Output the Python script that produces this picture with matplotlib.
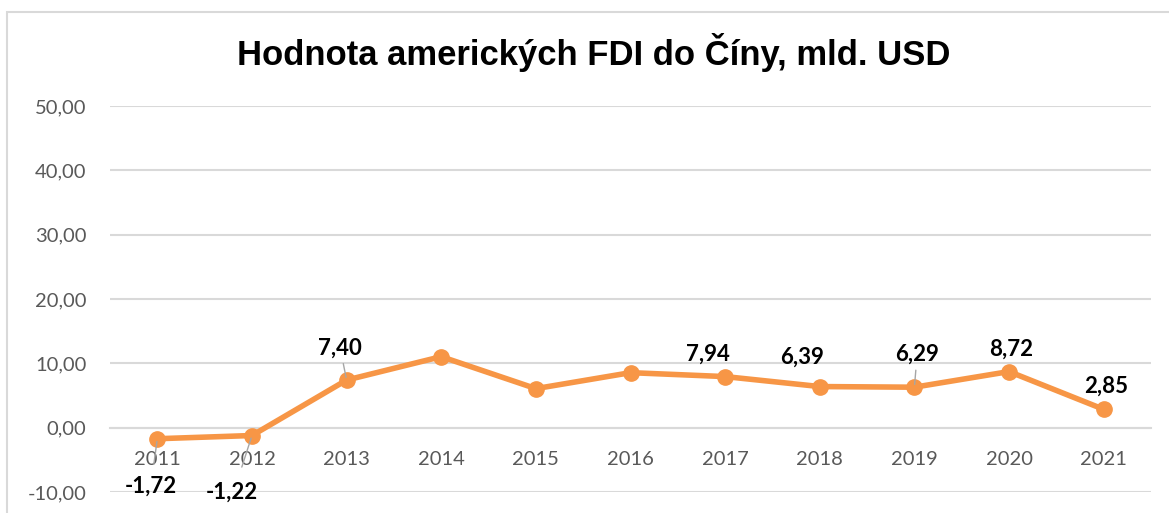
import matplotlib.pyplot as plt
from matplotlib.patches import Rectangle

years = ['2011', '2012', '2013', '2014', '2015', '2016', '2017', '2018', '2019', '2020', '2021']
fdi = [-1.72, -1.22, 7.40, 11.04, 6.07, 8.55, 7.94, 6.39, 6.29, 8.72, 2.85]
yticks = [-10, 0, 10, 20, 30, 40, 50]

# which points get a label, and where the label sits (pixel offset), leader line or not
label_offsets = {0: (-7, -47, True), 1: (-20, -57, True), 2: (-7, 32, True),
                 6: (-17, 22, False), 7: (-18, 29, False), 8: (3, 33, True),
                 9: (2, 22, False), 10: (2, 23, False)}

orange = '#F79646'
grid = '#D9D9D9'
grey = '#595959'

fig = plt.figure(figsize=(11.69, 5.13), dpi=100)
fig.patches.append(Rectangle((7 / 1169, -0.05), 1.1, 1 - 12 / 513 + 0.05,
                             transform=fig.transFigure, fill=False,
                             edgecolor=grid, lw=1.5))

ax = fig.add_axes([110 / 1169, 1 - 492 / 513, 1041 / 1169, 386 / 513])
ax.spines['bottom'].set_position(('data', 0))
ax.spines['bottom'].set_color(grid)
ax.spines['bottom'].set_linewidth(1.5)
for s in ['top', 'right', 'left']:
    ax.spines[s].set_visible(False)

x = list(range(len(years)))
ax.plot(x, fdi, color=orange, lw=4, marker='o', markersize=11, zorder=3)

ax.set_xlim(-0.5, len(years) - 0.5)
ax.set_ylim(-10, 50)
ax.set_yticks(yticks)
ax.set_yticklabels(['{:.2f}'.format(v).replace('.', ',') for v in yticks],
                   fontsize=14.5, color=grey, family='Lato')
ax.yaxis.grid(True, color=grid, lw=1.5)
ax.set_axisbelow(True)
ax.tick_params(axis='y', length=0, pad=17)

ax.set_xticks(x)
ax.set_xticklabels(years, fontsize=14.5, color=grey, family='Lato')
ax.tick_params(axis='x', length=0, pad=17)

for i, (dx, dy, leader) in label_offsets.items():
    txt = '{:.2f}'.format(fdi[i]).replace('.', ',')
    ax.annotate(txt, (i, fdi[i]), xytext=(dx * 0.72, dy * 0.72),
                textcoords='offset points', ha='center', va='center',
                fontsize=16, fontweight='bold', family='Lato', color='black')
    if leader:
        ax.annotate('', (i, fdi[i]), xytext=(dx * 0.72 * 0.55, dy * 0.72 * 0.6),
                    textcoords='offset points',
                    arrowprops=dict(arrowstyle='-', color='#A6A6A6', lw=1))

fig.text(594 / 1169, 1 - 52 / 513, 'Hodnota amerických FDI do Číny, mld. USD',
         ha='center', va='center', fontsize=24.9, fontweight='bold',
         family='Liberation Sans')

fig.savefig('out.png', dpi=100)
